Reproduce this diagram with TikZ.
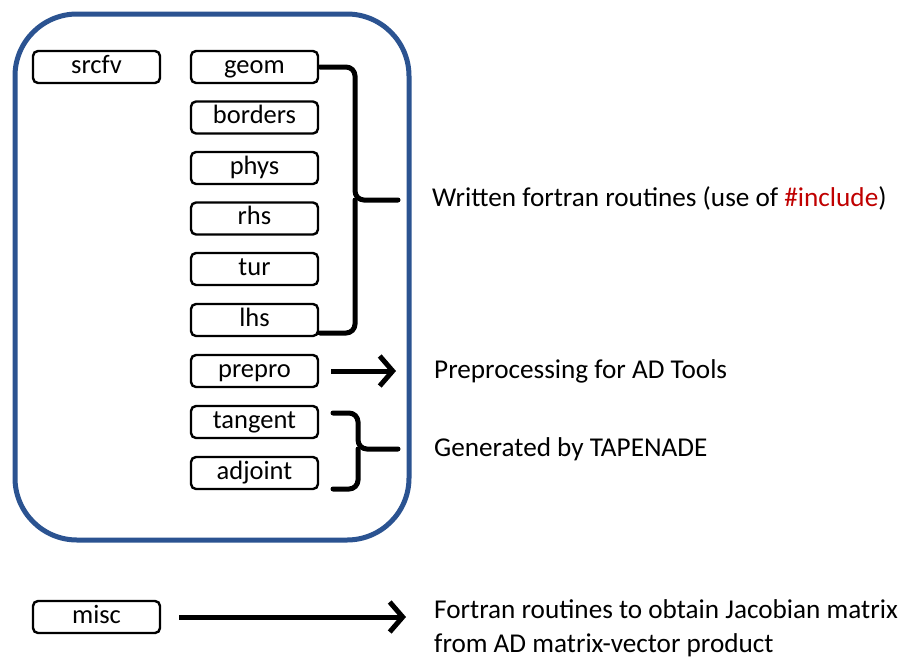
\documentclass[tikz,border=0pt]{standalone}
\usepackage{fontspec}
\setmainfont{Carlito}
\usetikzlibrary{arrows.meta}
\definecolor{frameblue}{RGB}{43,83,145}
\definecolor{incred}{RGB}{192,0,0}
\tikzset{
  x=1pt, y=-1pt,
  mod/.style={draw=black, line width=2.4pt, rounded corners=5pt, minimum width=127pt, minimum height=32pt, inner sep=0pt, text height=17pt, text depth=5pt, font=\fontsize{26.5}{30}\selectfont},
  lbl/.style={anchor=west, inner sep=0pt, font=\fontsize{27.2}{34}\selectfont, align=left},
  brace/.style={draw=black, line width=5pt, rounded corners=9pt, line cap=round},
  thickarrow/.style={draw=black, line width=5pt, -{Straight Barb[length=13pt,width=30pt,line width=5pt]}}
}
\begin{document}
\begin{tikzpicture}
\useasboundingbox (0,0) rectangle (918,670);
\fill[white] (0,0) rectangle (918,670);
% outer frame
\draw[frameblue, line width=5pt, rounded corners=62pt] (15,14) rectangle (409,540);
% modules
\node[mod] (srcfv) at (96.5,67) {srcfv};
\node[mod] (geom) at (254.5,67) {geom};
\node[mod] (borders) at (254.5,117.5) {borders};
\node[mod] (phys) at (254.5,168) {phys};
\node[mod] (rhs) at (254.5,218.5) {rhs};
\node[mod] (tur) at (254.5,269) {tur};
\node[mod] (lhs) at (254.5,320) {lhs};
\node[mod] (prepro) at (254.5,371) {prepro};
\node[mod] (tangent) at (254.5,422) {tangent};
\node[mod] (adjoint) at (254.5,473) {adjoint};
\node[mod] (misc) at (96.5,617) {misc};
% labels
\node[lbl] (written) at (432,198) {Written fortran routines (use of \textcolor{incred}{\#include})};
\node[lbl] (preproc) at (434,371) {Preprocessing for AD Tools};
\node[lbl] (generated) at (434,449) {Generated by TAPENADE};
\node[lbl] (fortran) at (434,628) {Fortran routines to obtain Jacobian matrix\\from AD matrix-vector product};
% brace 1
\coordinate (b1tip) at (398,200);
\coordinate (b1top) at (320,67);
\coordinate (b1bot) at (320,333);
\draw[brace] (b1top) -- (355,67) -- (355,200) -- (b1tip);
\draw[brace] (b1bot) -- (355,333) -- (355,200);
% brace 2
\coordinate (b2tip) at (398,449);
\coordinate (b2top) at (333,413);
\coordinate (b2bot) at (333,489);
\draw[brace] (b2top) -- (358,413) -- (358,449) -- (b2tip);
\draw[brace] (b2bot) -- (358,489) -- (358,449);
% arrows
\coordinate (a1s) at (331,371);
\coordinate (a1e) at (396,371);
\draw[thickarrow] (a1s) -- (a1e);
\coordinate (a2s) at (179,617);
\coordinate (a2e) at (406,617);
\draw[thickarrow] (a2s) -- (a2e);
\end{tikzpicture}
\end{document}
